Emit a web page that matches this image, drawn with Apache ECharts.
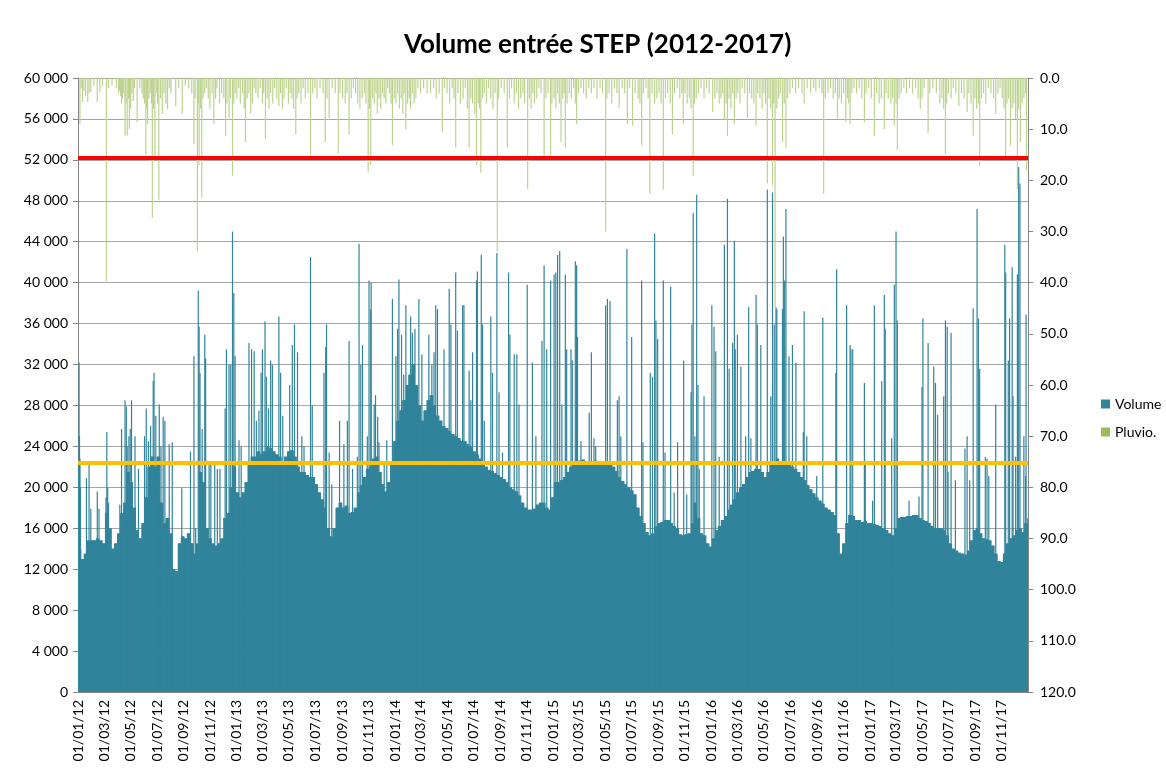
<!DOCTYPE html>
<html>
<head>
<meta charset="utf-8">
<title>Volume entrée STEP (2012-2017)</title>
<script src="https://cdn.jsdelivr.net/npm/echarts@6/dist/echarts.min.js"></script>
<style>
  html, body { margin: 0; padding: 0; background: #fff; }
  #chart { width: 1166px; height: 769px; }
</style>
</head>
<body>
<div id="chart"></div>
<script>
// volume d'entrée, niveau de fond par semaine (semaine n = jours 7n..7n+6 depuis le 01/01/12), m3/j
const baseVol = [
  // 2012
  14000, 13000, 13500, 14800, 14800, 14800, 15000, 14800, 14500, 17500, 16000, 14000, 14500,
  15500, 17500, 18500, 21500, 20500, 18000, 15800, 15000, 16500, 19000, 22000, 23000, 22000,
  23000, 18500, 16500, 17000, 15500, 12000, 11800, 14500, 15200, 15000, 15500, 14500, 13500,
  14500, 21500, 20500, 16000, 15000, 14500, 14300, 14500, 15000, 17000, 17500, 20000, 22000, 19500,
  // 2013
  19000, 19500, 20500, 22500, 23000, 23000, 23500, 23200, 23500, 24000, 23800, 23500, 23200,
  23000, 22400, 23000, 23500, 23600, 23000, 22000, 21500, 21500, 21200, 21000, 21000, 20300,
  19500, 18800, 18000, 16000, 15200, 16000, 18000, 18500, 18000, 18200, 17500, 17600, 18000,
  19500, 20200, 21000, 21800, 22000, 22800, 23000, 21500, 20300, 19600, 20500, 22500, 24500,
  // 2014
  26500, 27500, 28500, 30000, 31000, 32000, 30000, 28000, 26500, 27500, 28500, 29000, 28000,
  27000, 26500, 26000, 25800, 25500, 25200, 25000, 24800, 24500, 24500, 24200, 24000, 23500,
  23200, 22800, 22500, 22000, 21700, 21600, 21400, 21200, 21000, 20800, 20500, 20000, 19800,
  19600, 19200, 18500, 18000, 17800, 17800, 17900, 18300, 18500, 18500, 18000, 17800, 19000,
  // 2015
  20500, 20500, 20700, 21000, 21500, 22000, 22200, 22500, 22600, 22700, 22500, 22400, 22500,
  22600, 22400, 22300, 22300, 22200, 22200, 22000, 21600, 21000, 20600, 20300, 20000, 19700,
  19300, 18000, 17200, 16500, 15600, 15300, 15500, 16200, 16500, 16600, 16800, 16800, 16500,
  16200, 16000, 15400, 15300, 15400, 15500, 16500, 18500, 17000, 15500, 15300, 14500, 14200,
  // 2016
  15000, 15800, 16200, 16800, 17200, 17800, 18300, 18800, 19500, 20000, 20300, 21000, 21500,
  21600, 21800, 21800, 21500, 21000, 21500, 22300, 22500, 22800, 22500, 22500, 22300, 22200,
  22000, 21800, 21500, 21000, 20700, 20200, 19800, 19400, 19000, 18700, 18400, 18000, 17800,
  17600, 17300, 15500, 13500, 14500, 16500, 17300, 17200, 16800, 16800, 16600, 16700, 16500, 16500,
  // 2017
  16400, 16300, 16200, 16000, 15800, 15500, 15300, 16000, 17000, 17100, 17100, 17200, 17200,
  17300, 17300, 17000, 16800, 16700, 16500, 16200, 16000, 16000, 16000, 15800, 15300, 14500,
  14000, 13800, 13600, 13500, 13400, 13800, 14800, 15800, 16000, 15500, 15000, 14900, 14800,
  14300, 13500, 12800, 12700, 13500, 14500, 15000, 15300, 15800, 16000, 15600, 16500, 17000
];

// pointes de temps de pluie : [jour depuis le 01/01/12, m3/j]
const volPeaks = [
  [1, 22000], [2, 32200], [3, 25000], [4, 22800], [5, 20000], [19, 20900], [25, 22200], [29, 17900],
  [44, 19600], [48, 17900], [64, 19000], [66, 25400], [68, 20000], [70, 18500], [96, 18300], [100, 25700],
  [108, 28500], [111, 27900], [113, 24000], [117, 25000], [120, 25700], [123, 28500], [131, 25000], [139, 21800],
  [153, 25000], [157, 27700], [162, 24500], [167, 26000], [173, 30400], [175, 31200], [179, 27000], [187, 28100],
  [191, 24000], [196, 26900], [200, 26500], [210, 24200], [217, 24400], [239, 19900], [259, 23500], [267, 32800],
  [271, 16000], [277, 39200], [279, 35700], [281, 31200], [286, 25700], [292, 34900], [294, 32600], [302, 22200],
  [306, 22200], [315, 22200], [321, 21800], [327, 21800], [339, 27700], [342, 33500], [348, 32000], [352, 32000],
  [356, 45000], [359, 39000], [362, 32800],
  [371, 24600], [376, 24000], [394, 34100], [400, 33500], [406, 33300], [411, 26500], [417, 27500], [422, 31200],
  [425, 33500], [431, 36200], [434, 30800], [439, 27700], [444, 32400], [448, 32000], [463, 36700], [467, 31200],
  [472, 27000], [488, 30000], [494, 33900], [499, 35900], [506, 33200], [516, 25000], [521, 24000], [536, 42500],
  [540, 28000], [567, 31200], [571, 33700], [573, 35900], [579, 23400], [585, 20300], [603, 26500], [613, 24200],
  [621, 26500], [625, 34300], [633, 21800], [644, 23000], [648, 43800], [652, 32000], [656, 33900], [667, 25000],
  [671, 40200], [675, 37400], [676, 40000], [683, 28100], [686, 29000], [691, 26900], [694, 24400], [706, 22200],
  [712, 24600], [725, 38400],
  [733, 32800], [737, 35500], [740, 40300], [746, 34900], [751, 31000], [756, 37800], [767, 36700], [771, 35100],
  [777, 35500], [786, 38400], [793, 33000], [809, 34900], [816, 32000], [821, 33200], [825, 37800], [829, 37400],
  [844, 33500], [856, 39400], [860, 35900], [871, 41000], [875, 35300], [887, 37800], [890, 37800], [902, 31400],
  [906, 28500], [910, 33200], [919, 40200], [921, 41100], [930, 42700], [933, 35900], [937, 26500], [952, 36700],
  [956, 31200], [966, 42900], [971, 29300], [979, 23400], [993, 41000], [996, 34900], [1006, 33000], [1012, 33000],
  [1017, 28100], [1036, 39800], [1048, 32200], [1056, 25000], [1070, 34300], [1075, 41700], [1081, 33500], [1090, 40200],
  [1098, 40800], [1102, 41000], [1106, 42700], [1111, 43100], [1116, 28100], [1124, 40800], [1127, 33500], [1137, 33500],
  [1140, 32400], [1147, 42100], [1150, 41700], [1152, 34700], [1160, 24500], [1179, 27300], [1184, 33200], [1190, 24800],
  [1194, 24000], [1217, 37800], [1221, 38400], [1227, 38200], [1244, 28500], [1248, 28900], [1252, 25000], [1266, 43300],
  [1277, 34700], [1300, 40200], [1303, 24400], [1320, 31200], [1325, 30800], [1330, 44800], [1333, 36300], [1337, 34500],
  [1350, 40200], [1354, 23400], [1367, 39600], [1375, 19500], [1383, 24400], [1397, 32400], [1404, 19300], [1414, 29300],
  [1416, 35900], [1419, 46800], [1423, 25000], [1427, 48600], [1430, 30000], [1433, 21800], [1444, 28900],
  [1462, 37800], [1467, 35700], [1471, 33300], [1479, 23000], [1491, 43700], [1498, 48200], [1502, 31600], [1510, 34100],
  [1514, 44100], [1516, 33500], [1521, 34900], [1529, 31800], [1540, 25000], [1547, 37600], [1552, 24800], [1564, 38800],
  [1567, 35900], [1575, 33900], [1590, 49100], [1598, 28900], [1602, 48800], [1606, 35900], [1610, 37600], [1612, 37400],
  [1625, 37400], [1627, 44500], [1630, 40200], [1633, 47200], [1640, 32800], [1648, 33900], [1656, 32200], [1673, 25400],
  [1675, 37200], [1681, 25000], [1704, 21100], [1718, 36600], [1748, 31200], [1750, 41300], [1773, 37800], [1781, 33900],
  [1783, 33500], [1787, 33500], [1814, 30200], [1816, 22600],
  [1833, 18700], [1837, 37800], [1854, 30400], [1860, 38800], [1862, 35500], [1877, 24800], [1883, 39800], [1887, 45000],
  [1890, 36300], [1917, 18700], [1940, 19100], [1947, 29800], [1949, 36500], [1961, 34100], [1974, 31800], [1978, 30200],
  [1983, 27100], [1997, 28900], [2001, 36300], [2005, 35700], [2007, 21500], [2014, 35100], [2024, 20700], [2046, 23800],
  [2051, 25000], [2057, 20700], [2065, 37500], [2074, 47200], [2077, 36500], [2080, 31600], [2093, 23000], [2097, 22800],
  [2101, 21100], [2117, 28100], [2138, 43700], [2140, 41000], [2146, 32400], [2149, 36500], [2155, 41500], [2157, 28900],
  [2163, 23000], [2167, 40800], [2170, 51300], [2173, 49700], [2182, 25000], [2186, 21100], [2187, 36900]
];

// pluviométrie : [jour depuis le 01/01/12, mm]
const rain = [
  [4, 9], [7, 2], [10, 4.7], [13, 2.5], [17, 3.5], [22, 4.7], [25, 3], [29, 2.7], [36, 1.5], [44, 4.7], [50, 2.7],
  [56, 1.5], [65, 39.7], [70, 2], [78, 1.5], [88, 2], [93, 3], [95, 2.5], [98, 3.5], [100, 5], [102, 4], [105, 3],
  [108, 11.3], [110, 5], [113, 11.3], [116, 4], [118, 10], [121, 6], [124, 3], [127, 4.5], [130, 2], [136, 8.6],
  [142, 2], [147, 3], [150, 4], [153, 5], [156, 15], [158, 6], [160, 9], [163, 4], [166, 3], [169, 5], [171, 27.3],
  [174, 6], [177, 16], [180, 3], [183, 5], [186, 23.8], [190, 4], [194, 7], [198, 3], [202, 5], [206, 6], [210, 2],
  [214, 3], [225, 5.5], [232, 2], [240, 7], [247, 1.5], [255, 2], [262, 3], [267, 12.9], [270, 4], [275, 33.9],
  [277, 5], [279, 17], [282, 6], [285, 23.4], [288, 4], [292, 3], [296, 2], [300, 4], [304, 6], [309, 3], [313, 9],
  [317, 4], [320, 2], [326, 5], [331, 3], [336, 4], [340, 11.3], [343, 5], [348, 7.8], [351, 4], [356, 19.1], [359, 5],
  [362, 3],
  [366, 4], [370, 2], [374, 5], [379, 3], [383, 6], [386, 12.5], [390, 4], [394, 3], [398, 7], [402, 5], [406, 2],
  [410, 3], [415, 4], [420, 2], [425, 5], [428, 3], [432, 12], [436, 4], [440, 6], [444, 3], [449, 5], [453, 2],
  [458, 4], [463, 5.5], [467, 3], [471, 6], [475, 4], [480, 2], [485, 5], [489, 3], [493, 4], [497, 6], [502, 11],
  [505, 4], [509, 3], [514, 5], [519, 2], [524, 4], [530, 3], [536, 15.2], [541, 3], [546, 2], [551, 4], [558, 2],
  [565, 3], [570, 12.5], [574, 4], [579, 7.8], [586, 2], [593, 3], [600, 14.8], [604, 3], [610, 4], [616, 5], [620, 3],
  [625, 11], [630, 4], [635, 2], [640, 3], [645, 5], [650, 6], [655, 4], [660, 3], [664, 5], [669, 18.3], [672, 6],
  [675, 17], [679, 4], [683, 5], [687, 3], [690, 7], [694, 4], [698, 6], [702, 3], [706, 4], [710, 5], [714, 2],
  [718, 3], [722, 5], [725, 13.2], [729, 4],
  [733, 5], [737, 3], [741, 6], [745, 4], [749, 7], [752, 3], [756, 10], [760, 5], [764, 4], [767, 6], [771, 3],
  [775, 5], [779, 4], [784, 2], [790, 3], [797, 2], [805, 3], [813, 3], [820, 2], [826, 4], [833, 3], [840, 10.5],
  [845, 2], [851, 3], [857, 5], [863, 2], [867, 4], [871, 13.6], [876, 3], [882, 5], [888, 4], [893, 2], [898, 6],
  [902, 13.6], [906, 4], [910, 5], [915, 7], [919, 17], [923, 5], [926, 6], [929, 18.5], [933, 4], [937, 3], [942, 5],
  [947, 2], [952, 4], [957, 6], [962, 3], [967, 33.9], [970, 4], [976, 2], [983, 3], [990, 13.6], [995, 4], [1000, 2],
  [1006, 5], [1011, 3], [1016, 6], [1021, 4], [1026, 3], [1030, 5], [1037, 21.7], [1041, 4], [1045, 6], [1049, 3],
  [1053, 5], [1058, 4], [1063, 2], [1068, 3], [1075, 15.2], [1079, 4], [1084, 3], [1090, 15.2], [1093, 5],
  [1098, 4], [1102, 6], [1106, 3], [1110, 5], [1114, 12.5], [1118, 4], [1121, 3], [1124, 13.6], [1128, 5], [1133, 3],
  [1138, 4], [1143, 2], [1147, 5], [1150, 9], [1154, 3], [1160, 2], [1166, 3], [1172, 4], [1178, 2], [1184, 3],
  [1190, 2], [1197, 4], [1204, 2], [1210, 3], [1217, 30], [1220, 4], [1225, 3], [1231, 5], [1237, 2], [1243, 3],
  [1248, 5.8], [1255, 2], [1261, 3], [1267, 9], [1272, 2], [1279, 9.3], [1285, 3], [1292, 4], [1296, 5], [1300, 13.2],
  [1304, 3], [1310, 2], [1315, 4], [1319, 22.6], [1324, 3], [1330, 5], [1335, 4], [1340, 3], [1345, 5], [1350, 21.8],
  [1355, 4], [1360, 3], [1366, 5], [1371, 11], [1376, 3], [1382, 2], [1388, 4], [1393, 3], [1396, 9], [1400, 3],
  [1405, 5], [1410, 4], [1414, 6], [1419, 19.1], [1422, 5], [1426, 4], [1431, 3], [1437, 2], [1444, 4], [1450, 2],
  [1456, 3],
  [1464, 6.6], [1469, 4], [1474, 3], [1479, 5], [1483, 4], [1487, 3], [1491, 8.2], [1495, 5], [1498, 11.3], [1502, 4],
  [1506, 6], [1510, 3], [1514, 9], [1518, 4], [1522, 3], [1527, 5], [1532, 2], [1538, 3], [1544, 7.8], [1549, 3],
  [1554, 4], [1559, 5], [1564, 9.3], [1568, 3], [1573, 4], [1578, 6], [1582, 3], [1586, 5], [1590, 20.6], [1594, 4],
  [1598, 6], [1602, 21], [1605, 5], [1608, 45], [1612, 6], [1616, 4], [1620, 3], [1625, 12.5], [1629, 5], [1633, 13.6],
  [1637, 4], [1642, 3], [1648, 2], [1655, 3], [1662, 2], [1670, 3], [1675, 5], [1682, 2], [1690, 3], [1697, 2],
  [1702, 2.7], [1710, 2], [1716, 3], [1720, 22.6], [1724, 4], [1730, 3], [1736, 2], [1742, 4], [1747, 3], [1752, 8],
  [1756, 4], [1761, 5], [1766, 3], [1771, 8.6], [1775, 4], [1778, 5], [1781, 9], [1785, 3], [1790, 2], [1796, 3],
  [1802, 2], [1808, 4], [1814, 8.6], [1818, 3], [1824, 2],
  [1830, 4], [1837, 11.3], [1842, 3], [1848, 5], [1853, 4], [1860, 10], [1864, 3], [1869, 4], [1875, 5], [1879, 4],
  [1883, 9.3], [1887, 5], [1890, 14], [1894, 4], [1899, 3], [1905, 2], [1911, 3], [1918, 2], [1925, 3], [1932, 2],
  [1938, 4], [1943, 6], [1947, 4], [1952, 2], [1961, 10.8], [1965, 3], [1972, 2], [1980, 3], [1988, 5], [1993, 4],
  [1997, 6], [2001, 14.8], [2004, 5], [2008, 3], [2014, 4], [2019, 2], [2025, 3], [2032, 5.5], [2038, 3], [2044, 4],
  [2051, 6.6], [2055, 3], [2060, 5], [2065, 11.3], [2069, 4], [2073, 6], [2077, 5], [2080, 17.1], [2084, 4], [2089, 3],
  [2094, 5], [2100, 2], [2106, 3], [2112, 4], [2117, 7], [2122, 3], [2127, 2], [2132, 4], [2136, 6], [2140, 15.4],
  [2143, 5], [2147, 4], [2151, 13.2], [2155, 6], [2159, 5], [2163, 8], [2167, 21.8], [2170, 6], [2174, 12.5],
  [2178, 5], [2182, 4], [2186, 3], [2188, 18]
];

// lignes de référence (m3/j)
const capaciteMax = 52200;
const volumeMoyen = 22400;

const nbJours = 2192;
const debut = Date.UTC(2012, 0, 1);

function pad(n) { return n < 10 ? '0' + n : '' + n; }

const jours = [];
const volume = [];
const pluvio = [];
for (let i = 0; i < nbJours; i++) {
  const dt = new Date(debut + i * 86400000);
  jours.push(pad(dt.getUTCDate()) + '/' + pad(dt.getUTCMonth() + 1) + '/' + pad(dt.getUTCFullYear() % 100));
  volume.push(baseVol[Math.min(Math.floor(i / 7), baseVol.length - 1)]);
  pluvio.push('-');
}
volPeaks.forEach(function (p) { volume[p[0]] = Math.max(volume[p[0]], p[1]); });
rain.forEach(function (r) { pluvio[r[0]] = r[1]; });

// une étiquette tous les deux mois, le 1er du mois
function debutMoisImpair(index, value) {
  return value.slice(0, 2) === '01' && parseInt(value.slice(3, 5), 10) % 2 === 1;
}

const police = 'Lato, "Noto Sans", sans-serif';

const chart = echarts.init(document.getElementById('chart'));
chart.setOption({
  animation: false,
  backgroundColor: '#ffffff',
  textStyle: { fontFamily: police },
  title: {
    text: 'Volume entrée STEP (2012-2017)',
    left: 399,
    top: 27,
    textStyle: { fontFamily: police, fontSize: 26, fontWeight: 'bold', color: '#000' }
  },
  legend: {
    orient: 'vertical',
    left: 1096,
    top: 392,
    itemWidth: 9,
    itemHeight: 9,
    itemGap: 14,
    icon: 'rect',
    textStyle: { fontFamily: police, fontSize: 14, color: '#000' },
    data: [
      { name: 'Volume', itemStyle: { color: '#31849b' } },
      { name: 'Pluvio.', itemStyle: { color: '#9bbb59' } }
    ]
  },
  grid: { left: 78, right: 138, top: 78, bottom: 77 },
  xAxis: {
    type: 'category',
    data: jours,
    axisLine: { lineStyle: { color: '#868686' } },
    axisTick: { interval: debutMoisImpair, alignWithLabel: true, length: 5, lineStyle: { color: '#868686' } },
    axisLabel: {
      interval: debutMoisImpair,
      rotate: 90,
      margin: 8,
      fontSize: 14,
      color: '#000',
      fontFamily: police
    },
    splitLine: { show: false }
  },
  yAxis: [
    {
      type: 'value',
      min: 0,
      max: 60000,
      interval: 4000,
      axisLine: { show: true, lineStyle: { color: '#868686' } },
      axisTick: { show: true, length: 5, lineStyle: { color: '#868686' } },
      axisLabel: {
        margin: 10,
        fontSize: 14,
        color: '#000',
        fontFamily: police,
        formatter: function (v) { return String(v).replace(/\B(?=(\d{3})+(?!\d))/g, ' '); }
      },
      splitLine: { show: true, lineStyle: { color: '#a6a6a6', width: 1 } }
    },
    {
      type: 'value',
      min: 0,
      max: 120,
      interval: 10,
      inverse: true,
      position: 'right',
      axisLine: { show: true, lineStyle: { color: '#868686' } },
      axisTick: { show: true, length: 5, lineStyle: { color: '#868686' } },
      axisLabel: {
        margin: 12,
        fontSize: 14,
        color: '#000',
        fontFamily: police,
        formatter: function (v) { return v.toFixed(1); }
      },
      splitLine: { show: false }
    }
  ],
  series: [
    {
      name: 'Volume',
      type: 'bar',
      yAxisIndex: 0,
      data: volume,
      barWidth: 1.2,
      barGap: '-100%',
      itemStyle: { color: '#31849b' },
      markLine: {
        silent: true,
        symbol: 'none',
        label: { show: false },
        data: [
          { yAxis: capaciteMax, lineStyle: { color: '#ff0000', width: 4, type: 'solid' } },
          { yAxis: volumeMoyen, lineStyle: { color: '#ffc000', width: 4, type: 'solid' } }
        ]
      }
    },
    {
      name: 'Pluvio.',
      type: 'bar',
      yAxisIndex: 1,
      data: pluvio,
      barWidth: 1.2,
      barGap: '-100%',
      itemStyle: { color: '#bcd38f' }
    }
  ]
});
</script>
</body>
</html>
